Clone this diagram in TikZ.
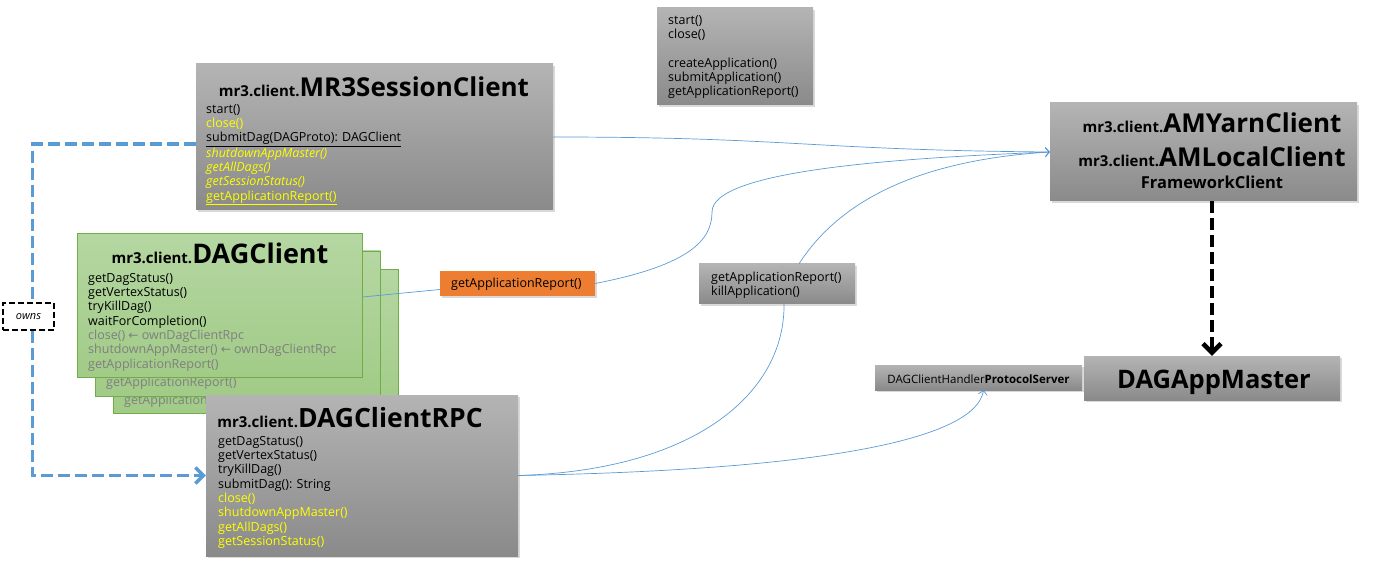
\documentclass[tikz,border=0pt]{standalone}
\usepackage{fontspec}
\setmainfont{Open Sans}
\newfontfamily\arrowfont{DejaVu Sans}
\usetikzlibrary{arrows.meta,shadows}
\definecolor{boxtop}{HTML}{B4B4B4}
\definecolor{boxbot}{HTML}{8A8A8A}
\definecolor{greentop}{HTML}{B5D7A2}
\definecolor{greenbot}{HTML}{A1CB87}
\definecolor{greenline}{HTML}{70AD47}
\definecolor{linkblue}{HTML}{5B9BD5}
\definecolor{callorange}{HTML}{ED7D31}
\definecolor{hint}{HTML}{7F7F7F}
\definecolor{hiyellow}{HTML}{FFFF00}
\newcommand{\pkgname}[1]{{\fontsize{15}{15}\selectfont\bfseries #1}}
\newcommand{\clsname}[2][26]{{\fontsize{#1}{#1}\selectfont\bfseries #2}}
\newcommand{\yel}[1]{\textcolor{hiyellow}{#1}}
\newcommand{\via}{ {\arrowfont\fontsize{12}{12}\selectfont ←} }
\begin{document}
\begin{tikzpicture}[
  x=1pt, y=-1pt,
  graybox/.style={top color=boxtop, bottom color=boxbot, inner sep=0pt,
    drop shadow={opacity=0.3, shadow xshift=1.5pt, shadow yshift=-2pt}},
  greenbox/.style={top color=greentop, bottom color=greenbot, draw=greenline,
    line width=0.8pt, inner sep=0pt},
  members/.style={anchor=north west, inner sep=0pt, align=left,
    font=\fontsize{12.5}{14.3}\selectfont},
  heading/.style={anchor=base, inner sep=0pt},
  link/.style={linkblue, line width=0.7pt},
  linktip/.style={link, -{Straight Barb[length=4pt, width=9pt]}},
  ownsline/.style={linkblue, line width=3.5pt, dash pattern=on 12pt off 5pt},
  runsline/.style={black, line width=4.5pt, dash pattern=on 12pt off 5pt}
]
\useasboundingbox (0,0) rectangle (1379,561);

\node[graybox, minimum width=156pt, minimum height=97pt] (apis) at (735,56.5) {};
\node[members] (apis-l) at (668,15) {start()\\close()\\[14.3pt]createApplication()\\submitApplication()\\getApplicationReport()};

\node[graybox, minimum width=357pt, minimum height=146pt] (sess) at (374.5,137) {};
\node[heading] (sess-t) at (374,97) {\pkgname{mr3.client.}\clsname{MR3SessionClient}};
\node[members] (sess-l) at (206,104) {start()\\ \yel{close()}\\ \underline{submitDag(DAGProto): DAGClient}\\
  \yel{\itshape shutdownAppMaster()}\\ \yel{\itshape getAllDags()}\\ \yel{\itshape getSessionStatus()}\\
  \yel{\underline{getApplicationReport()}}};

\node[greenbox, minimum width=285pt, minimum height=144pt] (dagc3) at (255.5,341.5) {};
\node[members, hint] (dagc3-l) at (124,395) {getApplicationReport()};
\node[greenbox, minimum width=285pt, minimum height=145pt] (dagc2) at (238,323.5) {};
\node[members, hint] (dagc2-l) at (106,376.5) {getApplicationReport()};
\node[greenbox, minimum width=285pt, minimum height=144pt] (dagc1) at (219.5,305.5) {};
\node[heading] (dagc1-t) at (220,264) {\pkgname{mr3.client.}\clsname[27]{DAGClient}};
\node[members] (dagc1-l) at (88,273) {getDagStatus()\\getVertexStatus()\\tryKillDag()\\waitForCompletion()\\
  \textcolor{hint}{close()\via ownDagClientRpc}\\ \textcolor{hint}{shutdownAppMaster()\via ownDagClientRpc}\\
  \textcolor{hint}{getApplicationReport()}};

\node[graybox, minimum width=312pt, minimum height=161pt] (rpc) at (362,475.5) {};
\node[heading] (rpc-t) at (350,427) {\pkgname{mr3.client.}\clsname[26.5]{DAGClientRPC}};
\node[members] (rpc-l) at (218,436) {getDagStatus()\\getVertexStatus()\\tryKillDag()\\submitDag(): String\\
  \yel{close()}\\ \yel{shutdownAppMaster()}\\ \yel{getAllDags()}\\ \yel{getSessionStatus()}};

\node[fill=callorange, minimum width=155pt, minimum height=25pt, inner sep=0pt,
  drop shadow={opacity=0.3, shadow xshift=1.5pt, shadow yshift=-2pt}] (orange) at (517.5,283.5) {};
\node[members, anchor=west] (orange-l) at (451,284) {getApplicationReport()};

\node[graybox, minimum width=156pt, minimum height=40pt] (kill) at (777,284) {};
\node[members] (kill-l) at (711,272) {getApplicationReport()\\killApplication()};

\node[graybox, minimum width=307pt, minimum height=98pt] (amc) at (1203.5,152) {};
\node[heading] (amc-1) at (1212,133) {\pkgname{mr3.client.}\clsname{AMYarnClient}};
\node[heading] (amc-2) at (1212,167) {\pkgname{mr3.client.}\clsname{AMLocalClient}};
\node[heading] (amc-3) at (1212,189) {\clsname[16.5]{FrameworkClient}};

\node[graybox, minimum width=207pt, minimum height=25pt] (handler) at (978.5,377.5) {};
\node[inner sep=0pt, font=\fontsize{11.5}{13}\selectfont] (handler-l) at (978.5,379) {DAGClientHandler\textbf{ProtocolServer}};
\node[graybox, minimum width=256pt, minimum height=44pt] (dam) at (1212,378) {};
\node[heading] (dam-t) at (1214,388) {\clsname[25.5]{DAGAppMaster}};

\node[draw, line width=1.5pt, dash pattern=on 6pt off 3pt, fill=white, minimum width=51pt,
  minimum height=27pt, inner sep=0pt, font=\itshape\fontsize{11}{12}\selectfont] (owns) at (28.5,316.5) {owns};

\draw[ownsline] ([yshift=-7pt]sess.west) -| ([xshift=4pt]owns.north);
\draw[ownsline, -{Straight Barb[length=8pt, width=16pt]}] ([xshift=4pt]owns.south) |- (rpc.west);
\draw[runsline, -{Straight Barb[length=9pt, width=18pt]}] (amc.south -| dam.north) -- (dam.north);

\draw[linktip] (sess.east) .. controls (790,137) and (810,150) .. (amc.west);
\draw[link] ([yshift=8.5pt]dagc1.east) -- ([yshift=-6pt]orange.west);
\draw[linktip] (orange.east) .. controls (690,265) and (712,240) .. (712,212) .. controls (712,170) and (900,158) .. (amc.west);
\draw[linktip] ([xshift=22pt]kill.north) .. controls (840,200) and (920,160) .. (amc.west);
\draw[link] (rpc.east) .. controls (700,470) and (785,390) .. ([xshift=7pt]kill.south);
\draw[linktip] (rpc.east) .. controls (820,470) and (975,440) .. ([xshift=5pt]handler.south);
\end{tikzpicture}
\end{document}
